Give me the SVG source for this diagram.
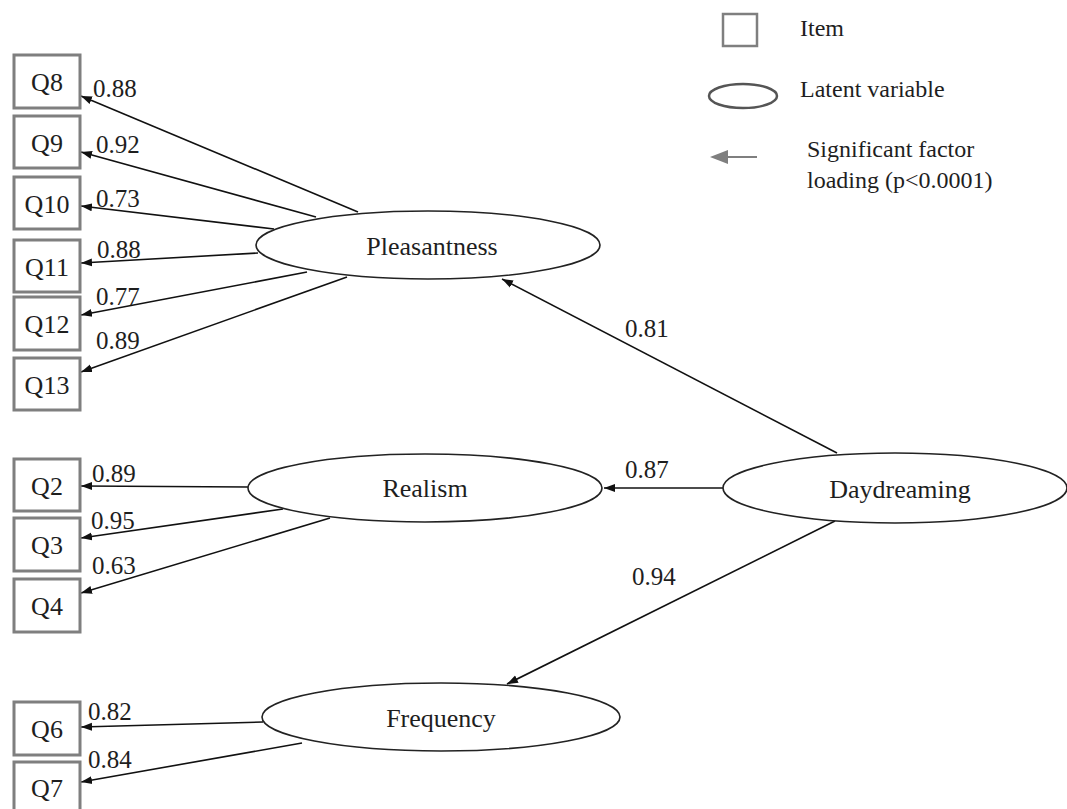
<svg xmlns="http://www.w3.org/2000/svg" width="1067" height="809" viewBox="0 0 1067 809">
<style>
.box{fill:#fff;stroke:#7f7f7f;stroke-width:3}
.lat{fill:#fff;stroke:#222;stroke-width:1.6}
.t{font-family:"Liberation Serif","Times New Roman",serif;font-size:26px;fill:#1e1e1e}
.lab{font-family:"Liberation Serif","Times New Roman",serif;font-size:25px;fill:#1e1e1e}
.leg{font-family:"Liberation Serif","Times New Roman",serif;font-size:24px;fill:#1e1e1e}
.c{stroke:#111;stroke-width:1.6;fill:none;marker-end:url(#ah)}
</style>
<defs>
<marker id="ah" markerUnits="userSpaceOnUse" markerWidth="12" markerHeight="10" viewBox="0 0 12 10" refX="11" refY="5" orient="auto">
<path d="M0,1 L11,5 L0,9 Z" fill="#111"/>
</marker>
</defs>
<rect width="1067" height="809" fill="#fff"/>

<g id="connectors">
<line class="c" x1="358" y1="212" x2="81" y2="96"/>
<line class="c" x1="316" y1="217" x2="81" y2="152"/>
<line class="c" x1="274" y1="229" x2="81" y2="206"/>
<line class="c" x1="258" y1="253" x2="81" y2="263"/>
<line class="c" x1="307" y1="272" x2="81" y2="315"/>
<line class="c" x1="347" y1="277" x2="81" y2="372"/>
<line class="c" x1="248" y1="487" x2="81" y2="486"/>
<line class="c" x1="283" y1="509" x2="81" y2="538"/>
<line class="c" x1="330" y1="518" x2="81" y2="593"/>
<line class="c" x1="263" y1="722" x2="81" y2="727"/>
<line class="c" x1="302" y1="743" x2="81" y2="782"/>
<line class="c" x1="837" y1="453" x2="502" y2="279"/>
<line class="c" x1="723" y1="488" x2="604" y2="488"/>
<line class="c" x1="835" y1="521" x2="507" y2="684"/>
</g>

<g id="labels">
<text class="lab" x="93" y="97">0.88</text>
<text class="lab" x="96" y="153">0.92</text>
<text class="lab" x="96" y="207">0.73</text>
<text class="lab" x="97" y="258">0.88</text>
<text class="lab" x="96" y="305">0.77</text>
<text class="lab" x="96" y="349">0.89</text>
<text class="lab" x="92" y="482">0.89</text>
<text class="lab" x="91" y="529">0.95</text>
<text class="lab" x="92" y="574">0.63</text>
<text class="lab" x="88" y="720">0.82</text>
<text class="lab" x="88" y="768">0.84</text>
<text class="lab" x="625" y="337">0.81</text>
<text class="lab" x="625" y="478">0.87</text>
<text class="lab" x="632" y="585">0.94</text>
</g>

<g id="Q8"><rect class="box" x="14" y="55" width="66" height="53"/><text class="t" x="47" y="91" text-anchor="middle">Q8</text></g>
<g id="Q9"><rect class="box" x="14" y="116" width="66" height="52"/><text class="t" x="47" y="152" text-anchor="middle">Q9</text></g>
<g id="Q10"><rect class="box" x="14" y="177" width="66" height="52"/><text class="t" x="47" y="213" text-anchor="middle">Q10</text></g>
<g id="Q11"><rect class="box" x="14" y="240" width="66" height="52"/><text class="t" x="47" y="276" text-anchor="middle">Q11</text></g>
<g id="Q12"><rect class="box" x="14" y="297" width="66" height="53"/><text class="t" x="47" y="333" text-anchor="middle">Q12</text></g>
<g id="Q13"><rect class="box" x="14" y="358" width="66" height="52"/><text class="t" x="47" y="394" text-anchor="middle">Q13</text></g>
<g id="Q2"><rect class="box" x="14" y="459" width="66" height="52"/><text class="t" x="47" y="495" text-anchor="middle">Q2</text></g>
<g id="Q3"><rect class="box" x="14" y="518" width="66" height="53"/><text class="t" x="47" y="554" text-anchor="middle">Q3</text></g>
<g id="Q4"><rect class="box" x="14" y="579" width="66" height="53"/><text class="t" x="47" y="615" text-anchor="middle">Q4</text></g>
<g id="Q6"><rect class="box" x="14" y="702" width="66" height="53"/><text class="t" x="47" y="738" text-anchor="middle">Q6</text></g>
<g id="Q7"><rect class="box" x="14" y="762" width="66" height="53"/><text class="t" x="47" y="797" text-anchor="middle">Q7</text></g>

<g id="Pleasantness"><ellipse class="lat" cx="428" cy="245" rx="172" ry="34"/><text class="t" x="432" y="255" text-anchor="middle">Pleasantness</text></g>
<g id="Realism"><ellipse class="lat" cx="425" cy="488" rx="177" ry="34"/><text class="t" x="425" y="497" text-anchor="middle">Realism</text></g>
<g id="Daydreaming"><ellipse class="lat" cx="895" cy="488" rx="172" ry="35"/><text class="t" x="900" y="498" text-anchor="middle">Daydreaming</text></g>
<g id="Frequency"><ellipse class="lat" cx="441" cy="717" rx="179" ry="34"/><text class="t" x="441" y="727" text-anchor="middle">Frequency</text></g>

<g id="legend">
<rect x="723" y="14" width="34" height="32" fill="#fff" stroke="#7f7f7f" stroke-width="2.5"/>
<text class="leg" x="800" y="36">Item</text>
<ellipse cx="743" cy="96" rx="34" ry="12" fill="#fff" stroke="#555" stroke-width="2.5"/>
<text class="leg" x="800" y="97">Latent variable</text>
<line x1="757" y1="157" x2="724" y2="157" stroke="#7f7f7f" stroke-width="2"/>
<path d="M710,157 L728,150 L728,164 Z" fill="#7f7f7f"/>
<text class="leg" x="807" y="157">Significant factor</text>
<text class="leg" x="807" y="188">loading (p&lt;0.0001)</text>
</g>
</svg>
